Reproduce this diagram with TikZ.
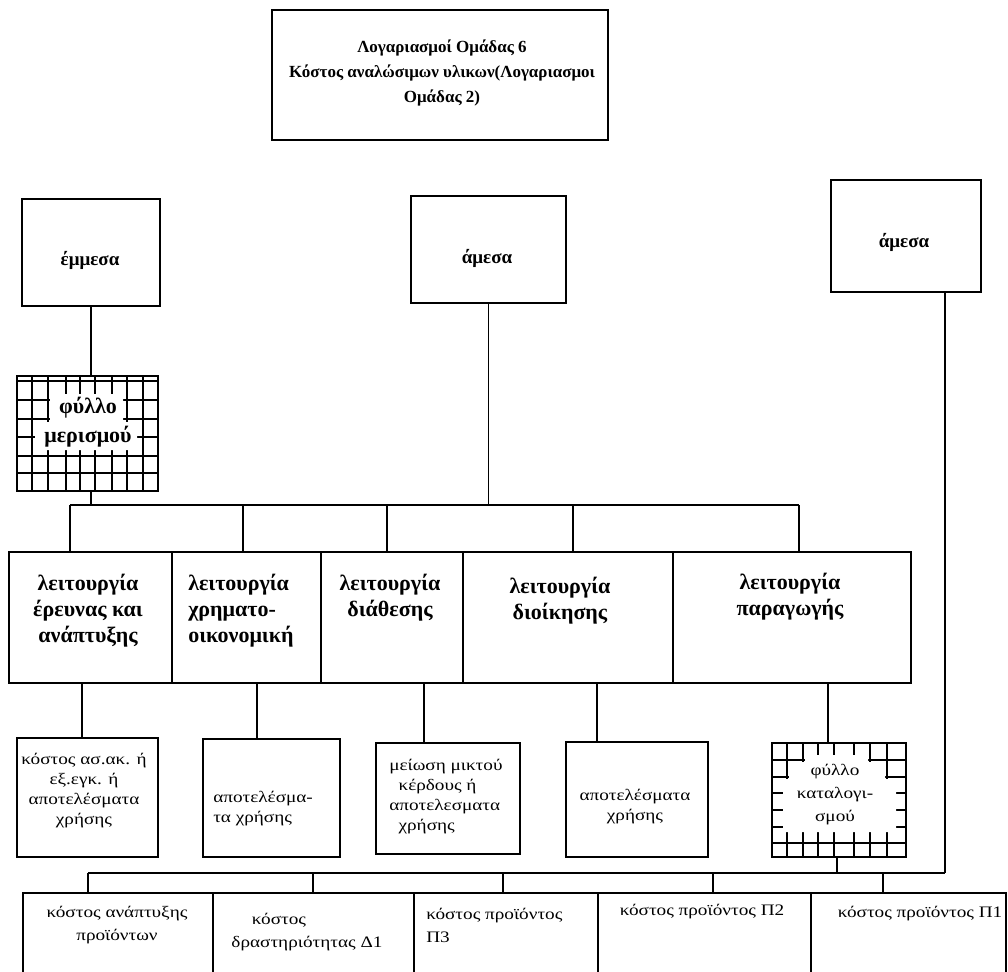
\documentclass[tikz,border=0pt]{standalone}
\usepackage{fontspec}
\setmainfont{Liberation Serif}
\newfontfamily\plainfont[FakeStretch=1.2]{Liberation Serif}
\usetikzlibrary{calc}

% rectangle node given by its corners (in px units of the picture)
\newcommand\boxat[6][]{%
  \node[frame,#1,minimum width={(#5-#3)*0.75pt},minimum height={(#6-#4)*0.75pt},
        anchor=north west] (#2) at (#3,#4) {};}

\begin{document}
\begin{tikzpicture}[x=0.75pt,y=-0.75pt,
  frame/.style={draw,line width=1pt,inner sep=0pt,outer sep=0pt},
  wire/.style={line width=1pt},
  gridline/.style={line width=0.9pt},
  titletext/.style={font=\bfseries\fontsize{12.75pt}{18.75pt}\selectfont,align=center,inner sep=0pt},
  headtext/.style={font=\bfseries\fontsize{14.25pt}{17pt}\selectfont,inner sep=0pt},
  functext/.style={font=\bfseries\fontsize{16.5pt}{19.5pt}\selectfont,align=center,inner sep=0pt},
  lowtext/.style={font=\plainfont\fontsize{12pt}{15pt}\selectfont,align=center,inner sep=0pt},
  costtext/.style={font=\plainfont\fontsize{12pt}{17.25pt}\selectfont,align=center,inner sep=0pt},
]
\useasboundingbox (0,0) rectangle (1008,972);

% ---------- title and the three source boxes ----------
\boxat{title}{272}{10}{608}{140}
\node[titletext] (titleT) at (442,72.5)
  {Λογαριασμοί Ομάδας 6\\Κόστος αναλώσιμων υλικων(Λογαριασμοι\\Ομάδας 2)};

\boxat{em}{22}{199}{160}{306}
\node[headtext] (emT) at (90,260) {έμμεσα};
\boxat{amid}{411}{196}{566}{303}
\node[headtext] (amidT) at (487,258) {άμεσα};
\boxat{aright}{831}{180}{981}{292}
\node[headtext] (arightT) at (904,242) {άμεσα};

% ---------- allocation sheet (grid pattern) ----------
\begin{scope}
  \clip (17,376) rectangle (158,491);
  \foreach \gx in {32,48,66,80,95,112,127,143} \draw[gridline] (\gx,376) -- (\gx,491);
  \foreach \gy in {381,400,419,437,456,473} \draw[gridline] (17,\gy) -- (158,\gy);
\end{scope}
\fill[white] (50,394) -- (123,394) -- (123,422) -- (137,422) -- (137,450)
  -- (35,450) -- (35,422) -- (50,422) -- cycle;
\boxat{mer}{17}{376}{158}{491}
\node[functext,font=\bfseries\fontsize{16.5pt}{21.75pt}\selectfont] (merT) at (88,422) {φύλλο\\μερισμού};

% ---------- functions row ----------
\boxat{r1}{9}{552}{172}{683}
\boxat{r2}{172}{552}{321}{683}
\boxat{r3}{321}{552}{463}{683}
\boxat{r4}{463}{552}{673}{683}
\boxat{r5}{673}{552}{911}{683}
\node[functext] (r1T) at (88,611) {λειτουργία\\έρευνας και\\ανάπτυξης};
\node[functext,align=left,anchor=west] (r2T) at (188,611) {λειτουργία\\χρηματο-\\οικονομική};
\node[functext] (r3T) at (390,598) {λειτουργία\\διάθεσης};
\node[functext] (r4T) at (560,601) {λειτουργία\\διοίκησης};
\node[functext] (r5T) at (790,597) {λειτουργία\\παραγωγής};

% ---------- destination boxes ----------
\boxat{l1}{17}{738}{158}{857}
\node[lowtext] (l1T) at (84,791) {κόστος ασ.ακ. ή\\εξ.εγκ. ή\\αποτελέσματα\\χρήσης};
\boxat{l2}{203}{739}{340}{857}
\node[lowtext,align=left,anchor=west] (l2T) at (213,809) {αποτελέσμα-\\τα χρήσης};
\boxat{l3}{376}{743}{520}{854}
\node[lowtext,align=left,anchor=west] (l3T) at (389,797)
  {μείωση μικτού\\\hspace*{7pt}κέρδους ή\\αποτελεσματα\\\hspace*{7pt}χρήσης};
\boxat{l4}{566}{742}{708}{857}
\node[lowtext] (l4T) at (635,807) {αποτελέσματα\\χρήσης};

% costing sheet (border pattern)
\begin{scope}
  \clip (772,743) rectangle (906,857);
  \foreach \gx in {787,803,818,834,854,870,887} \draw[gridline] (\gx,743) -- (\gx,857);
  \foreach \gy in {760,777,793,810,827,843} \draw[gridline] (772,\gy) -- (906,\gy);
\end{scope}
\fill[white] (805,755) -- (868,755) -- (868,762) -- (885,762) -- (885,779) -- (896,779)
  -- (896,832) -- (783,832) -- (783,779) -- (789,779) -- (789,762) -- (805,762) -- cycle;
\boxat{l5}{772}{743}{906}{857}
\node[costtext] (l5T) at (835,795) {φύλλο\\καταλογι-\\σμού};

% ---------- cost objects row ----------
\boxat{b1}{23}{893}{213}{985}
\boxat{b2}{213}{893}{414}{985}
\boxat{b3}{414}{893}{598}{985}
\boxat{b4}{598}{893}{811}{985}
\boxat{b5}{811}{893}{1006}{985}
\node[costtext] (b1T) at (117,925) {κόστος ανάπτυξης\\προϊόντων};
\node[costtext] (b2T) at (307,932) {κόστος\kern42pt\null\\δραστηριότητας Δ1};
\node[costtext,align=left,anchor=west] (b3T) at (426,925) {κόστος προϊόντος\\Π3};
\node[costtext] (b4T) at (702,912) {κόστος προϊόντος Π2};
\node[costtext] (b5T) at (920,914) {κόστος προϊόντος Π1};

% ---------- connectors ----------
\coordinate (busA) at (0,505);
\coordinate (dA1) at (70,505);
\coordinate (dA2) at (243,505);
\coordinate (dA3) at (387,505);
\coordinate (dA4) at (573,505);
\coordinate (dA5) at (799,505);
\coordinate (kM) at (91,0);
\draw[wire] (em.south) -- (em.south |- mer.north);
\draw[wire] (mer.south -| kM) -- (kM |- busA);
\draw[wire] (amid.south) -- (amid.south |- busA);
\draw[wire] (dA1) -- (dA5);
\foreach \i in {1,...,5} \draw[wire] (dA\i) -- (dA\i |- r\i.north);

\coordinate (cB1) at (82,0);
\coordinate (cB2) at (257,0);
\coordinate (cB3) at (424,0);
\coordinate (cB4) at (597,0);
\coordinate (cB5) at (828,0);
\foreach \i in {1,...,5} \draw[wire] (r\i.south -| cB\i) -- (cB\i |- l\i.north);

\coordinate (busB) at (0,873);
\coordinate (kS) at (837,0);
\coordinate (kR) at (945,0);
\draw[wire] (l5.south -| kS) -- (kS |- busB);
\draw[wire] (aright.south -| kR) -- (kR |- busB);
\coordinate (dC1) at (88,873);
\coordinate (dC2) at (313,873);
\coordinate (dC3) at (503,873);
\coordinate (dC4) at (713,873);
\coordinate (dC5) at (883,873);
\draw[wire] (dC1) -- (kR |- busB);
\foreach \i in {1,...,5} \draw[wire] (dC\i) -- (dC\i |- b\i.north);
\end{tikzpicture}
\end{document}
